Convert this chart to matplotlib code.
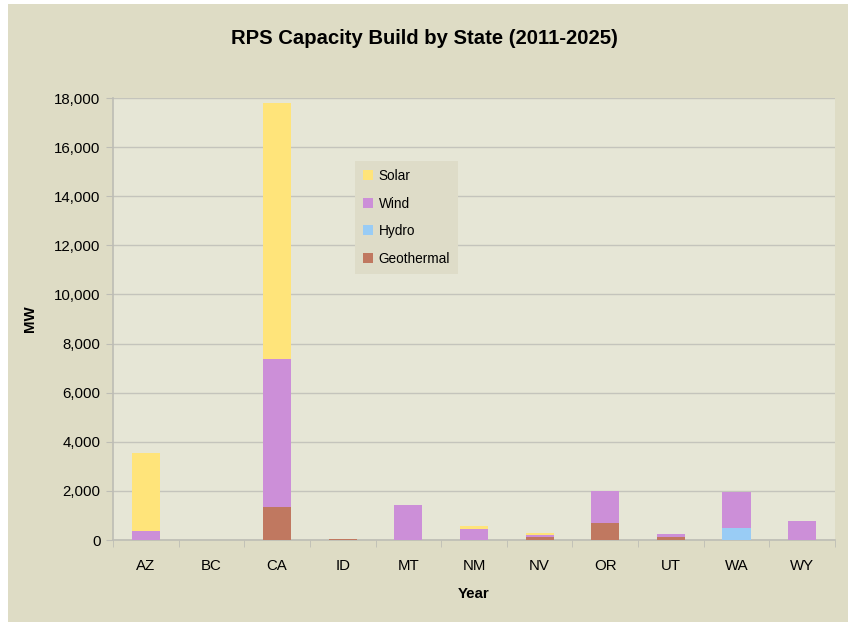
import matplotlib
matplotlib.use("Agg")
import matplotlib.pyplot as plt
from matplotlib.patches import Patch, Rectangle
import numpy as np

plt.rcParams['font.family'] = ['Liberation Sans', 'DejaVu Sans']

states = ["AZ", "BC", "CA", "ID", "MT", "NM", "NV", "OR", "UT", "WA", "WY"]
geothermal = [0, 0, 1340, 50, 0, 0, 125, 700, 125, 0, 0]
hydro = [0, 0, 0, 0, 0, 0, 0, 0, 0, 490, 0]
wind = [370, 0, 6030, 0, 1425, 450, 65, 1300, 120, 1460, 775]
solar = [3180, 0, 10430, 0, 0, 120, 80, 0, 0, 0, 0]

series = [("Geothermal", geothermal, "#C07860"),
          ("Hydro", hydro, "#99CCF5"),
          ("Wind", wind, "#CC8FD8"),
          ("Solar", solar, "#FFE47A")]

fig = plt.figure(figsize=(8.48, 6.22), dpi=100, facecolor="white")
fig.patches.append(Rectangle((8/848, 0), 1 - 8/848, 1 - 4/622, transform=fig.transFigure,
                             facecolor="#DEDCC5", edgecolor="none", zorder=-10))
ax = fig.add_axes([113/848, 82/622, 722/848, 442/622])
ax.set_facecolor("#E6E6D6")

x = np.arange(len(states))
bottom = np.zeros(len(states))
handles = {}
for name, vals, col in series:
    v = np.array(vals, dtype=float)
    ax.bar(x, v, bottom=bottom, width=0.43, color=col, edgecolor="none", zorder=3)
    bottom += v
    handles[name] = Patch(facecolor=col, edgecolor="none")

ax.set_xlim(-0.5, len(states) - 0.5)
ax.set_ylim(0, 18000)
ax.set_yticks(np.arange(0, 18001, 2000))
ax.set_yticklabels([f"{v:,}" for v in range(0, 18001, 2000)], fontsize=10.8)
ax.yaxis.grid(True, color="#C4C4BC", linewidth=1, zorder=0)
ax.set_axisbelow(True)

ax.set_xticks(x)
ax.set_xticklabels(states, fontsize=10.8)
ax.set_xticks(np.arange(-0.5, len(states), 1), minor=True)
ax.tick_params(axis="x", which="major", length=0, pad=14)
ax.tick_params(axis="x", which="minor", length=5, color="#BDBDB5")
ax.tick_params(axis="y", length=5, color="#BDBDB5", pad=4)

for s in ["top", "right"]:
    ax.spines[s].set_visible(False)
for s in ["left", "bottom"]:
    ax.spines[s].set_color("#BDBDB5")
    ax.spines[s].set_linewidth(1.2)

ax.set_xlabel("Year", fontsize=10.8, fontweight="bold", labelpad=10)
ax.set_ylabel("MW", fontsize=10.8, fontweight="bold", labelpad=12)

fig.text(0.5, 1 - 38/622, "RPS Capacity Build by State (2011-2025)", ha="center", va="center",
         fontsize=14.6, fontweight="bold")

order = ["Solar", "Wind", "Hydro", "Geothermal"]
leg = ax.legend([handles[n] for n in order], order, loc="upper left",
                bbox_to_anchor=(0.335, 0.858), fontsize=9.8, frameon=True, fancybox=False,
                handlelength=0.75, handleheight=0.75, handletextpad=0.4,
                labelspacing=1.0, borderpad=0.6, borderaxespad=0)
leg.get_frame().set_facecolor("#DEDCC8")
leg.get_frame().set_edgecolor("none")
leg.get_frame().set_alpha(1)

fig.savefig("out.png", dpi=100, facecolor=fig.get_facecolor())
